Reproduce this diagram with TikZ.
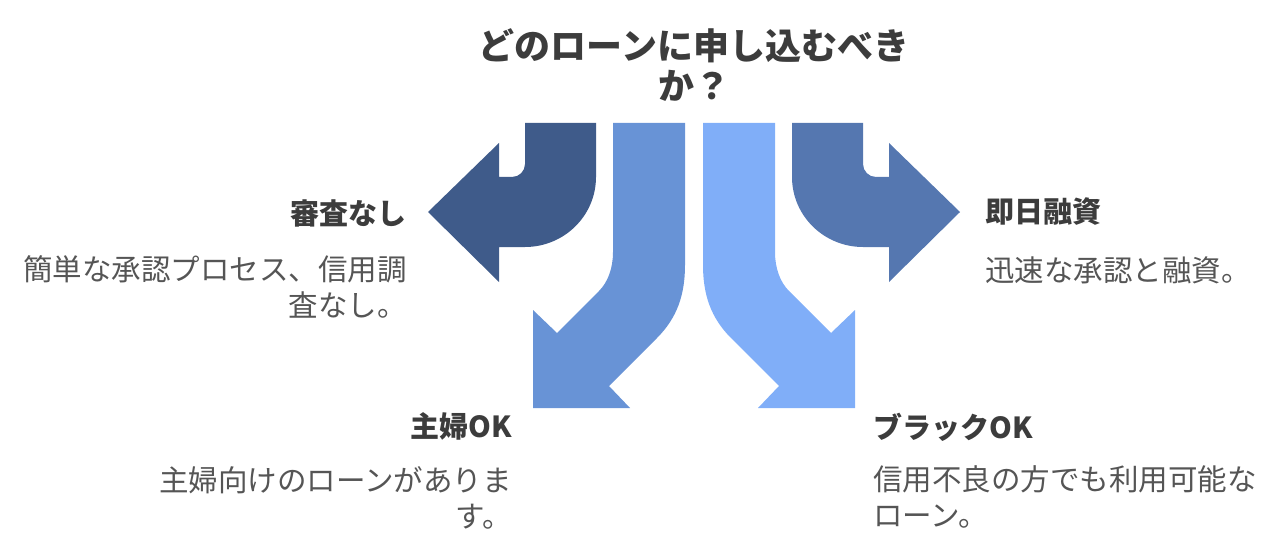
\documentclass[tikz,border=0pt]{standalone}
\usepackage{fontspec}
\newfontfamily\jpfont{Noto Sans CJK JP}
\definecolor{arrowdark}{HTML}{3F5B8A}
\definecolor{arrowmid}{HTML}{6893D6}
\definecolor{arrowlight}{HTML}{80AEF8}
\definecolor{arrowsteel}{HTML}{5577B0}
\definecolor{headgray}{HTML}{3C3C3C}
\definecolor{bodygray}{HTML}{555555}
\tikzset{
    question/.style={font=\jpfont\bfseries\fontsize{18}{20}\selectfont, text=headgray, inner sep=0pt, align=center},
    heading/.style={font=\jpfont\bfseries\fontsize{14.5}{17}\selectfont, text=headgray, inner sep=0pt},
    body/.style={font=\jpfont\fontsize{14.75}{18}\selectfont, text=bodygray, inner sep=0pt},
}
\begin{document}
\begin{tikzpicture}[x=0.5pt,y=-0.5pt]
    \useasboundingbox (0,0) rectangle (1280,551);
    % title
    \node[question] (title) at (694,65) {どのローンに申し込むべき\\か？};
    % turning arrows
    \fill[arrowdark] (525,123) -- (596,123) -- (596,177)
        arc[start angle=0, end angle=90, x radius=71, y radius=70]
        -- (499,247) -- (499,282) -- (428,212) -- (499,143) -- (499,177) -- (512,177)
        arc[start angle=90, end angle=0, radius=13] -- cycle;
    \fill[arrowsteel] (863,123) -- (792,123) -- (792,177)
        arc[start angle=180, end angle=90, x radius=71, y radius=70]
        -- (889,247) -- (889,282) -- (960,212) -- (889,143) -- (889,177) -- (876,177)
        arc[start angle=90, end angle=180, radius=13] -- cycle;
    % falling arrows
    \fill[arrowmid] (613,123) -- (685,123) -- (685,265)
        .. controls (685,295) and (677,318) .. (657,338)
        -- (609,386) -- (630,408) -- (533,408) -- (533,310) -- (557,333) -- (599,291)
        .. controls (608,282) and (613,268) .. (613,252) -- cycle;
    \fill[arrowlight] (775,123) -- (703,123) -- (703,265)
        .. controls (703,295) and (711,318) .. (731,338)
        -- (779,386) -- (758,408) -- (855,408) -- (855,310) -- (831,333) -- (789,291)
        .. controls (780,282) and (775,268) .. (775,252) -- cycle;
    % labels
    \node[heading, anchor=east] (noscreen) at (407,213) {審査なし};
    \node[body, anchor=north east, align=right] (noscreentext) at (407,255) {簡単な承認プロセス、信用調\\査なし。};
    \node[heading, anchor=east] (housewife) at (512,426) {主婦OK};
    \node[body, anchor=north east, align=right] (housewifetext) at (512,466) {主婦向けのローンがありま\\す。};
    \node[heading, anchor=west] (sameday) at (985,212) {即日融資};
    \node[body, anchor=north west, align=left] (samedaytext) at (985,256) {迅速な承認と融資。};
    \node[heading, anchor=west] (blacklist) at (873,427) {ブラックOK};
    \node[body, anchor=north west, align=left] (blacklisttext) at (873,465) {信用不良の方でも利用可能な\\ローン。};
\end{tikzpicture}
\end{document}
